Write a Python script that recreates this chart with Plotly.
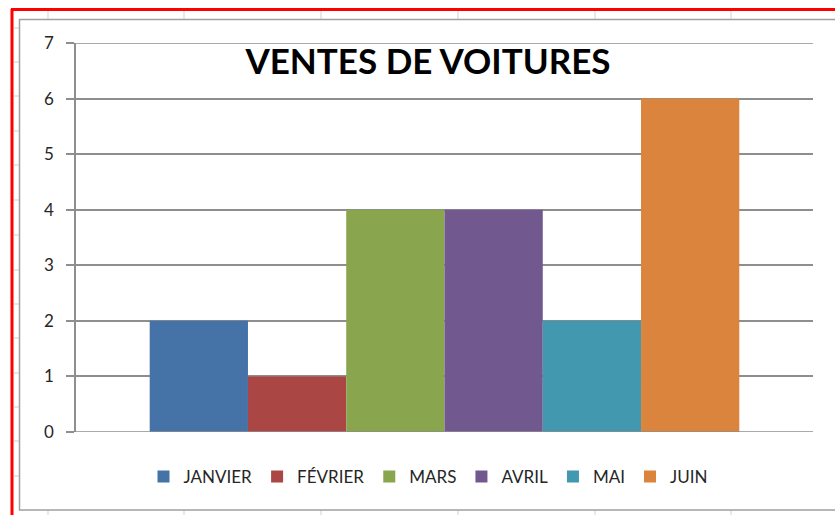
import plotly.graph_objects as go

months = ["JANVIER", "FÉVRIER", "MARS", "AVRIL", "MAI", "JUIN"]
sales = [2, 1, 4, 4, 2, 6]
colors = ["#4572A7", "#AA4643", "#89A54E", "#71588F", "#4198AF", "#DB843D"]
title_text = "VENTES DE VOITURES"
y_ticks = [0, 1, 2, 3, 4, 5, 6, 7]

W, H = 835, 515
ml, mr, mt, mb = 76, 22, 43, 83
ph = H - mt - mb
pw = W - ml - mr

def px2x(x):
    return (x - ml) / pw

def px2y(y):
    return (H - mb - y) / ph

fig = go.Figure()
for m, v, c in zip(months, sales, colors):
    fig.add_trace(go.Bar(x=[""], y=[v], name=m, marker=dict(color=c, line=dict(width=0))))

shapes = []
# faint spreadsheet cell gridlines outside the chart
for cx in [48, 184, 321, 458, 595, 731]:
    shapes.append(dict(type="line", xref="paper", yref="paper",
                       x0=px2x(cx), x1=px2x(cx), y0=px2y(11), y1=px2y(19),
                       line=dict(color="#C9D1E0", width=1)))
    shapes.append(dict(type="line", xref="paper", yref="paper",
                       x0=px2x(cx), x1=px2x(cx), y0=px2y(510), y1=px2y(515),
                       line=dict(color="#C9D1E0", width=1)))
for ry in [28, 62, 96, 131, 165, 200, 235, 270, 304, 338, 373, 407, 441, 476]:
    shapes.append(dict(type="line", xref="paper", yref="paper",
                       x0=px2x(14), x1=px2x(19), y0=px2y(ry), y1=px2y(ry),
                       line=dict(color="#C9D1E0", width=1)))
# chart area border
shapes.append(dict(type="rect", xref="paper", yref="paper",
                   x0=px2x(19.5), x1=px2x(840), y0=px2y(510), y1=px2y(19.5),
                   line=dict(color="#A0A0A0", width=1.5), fillcolor="rgba(0,0,0,0)"))
# red selection border
shapes.append(dict(type="line", xref="paper", yref="paper",
                   x0=px2x(12), x1=px2x(12), y0=px2y(9), y1=px2y(520),
                   line=dict(color="#FF0000", width=3)))
shapes.append(dict(type="line", xref="paper", yref="paper",
                   x0=px2x(11), x1=px2x(840), y0=px2y(9.5), y1=px2y(9.5),
                   line=dict(color="#FF0000", width=3)))
# bottom axis line and top gridline, including tick stubs
shapes.append(dict(type="line", xref="paper", yref="y", x0=px2x(68), x1=1, y0=y_ticks[0], y1=y_ticks[0],
                   line=dict(color="#8E8E8E", width=1.5)))
shapes.append(dict(type="line", xref="paper", yref="y", x0=px2x(68), x1=1, y0=y_ticks[-1], y1=y_ticks[-1],
                   line=dict(color="#8E8E8E", width=1.5)))

fig.update_layout(
    width=W, height=H,
    margin=dict(l=ml, r=mr, t=mt, b=mb),
    paper_bgcolor="white", plot_bgcolor="white",
    barmode="group", bargap=0.2, bargroupgap=0,
    font=dict(family="Lato, Carlito, 'Liberation Sans', sans-serif", color="#262626"),
    title=dict(text="<b>" + title_text + "</b>", xref="paper", x=px2x(428), xanchor="center",
               yref="container", y=1 - 62 / H, yanchor="middle",
               font=dict(size=35, color="#000000", family="Lato, Carlito, sans-serif")),
    xaxis=dict(showticklabels=False, showgrid=False, zeroline=False,
               showline=False, ticks=""),
    yaxis=dict(range=[0, 7], tickvals=y_ticks, showgrid=True, gridcolor="#8E8E8E",
               gridwidth=1.5, zeroline=False, showline=True, linecolor="#8E8E8E",
               linewidth=1.5, ticks="outside", ticklen=8, tickcolor="#8E8E8E",
               tickwidth=1.5, ticklabelstandoff=9,
               tickfont=dict(size=17, color="#262626")),
    legend=dict(orientation="h", x=px2x(428), xanchor="center", y=px2y(477), yanchor="middle",
                font=dict(size=17, color="#262626"), itemwidth=30,
                bgcolor="rgba(0,0,0,0)", traceorder="normal"),
    shapes=shapes,
    showlegend=True,
)

fig.write_html("out.html")
